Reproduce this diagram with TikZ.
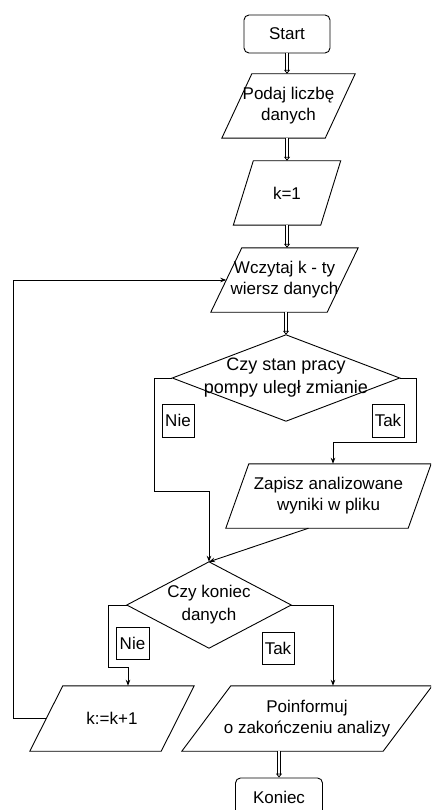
\documentclass[tikz,border=0pt]{standalone}
\usepackage{fontspec}
\setmainfont{Liberation Sans}
\usetikzlibrary{calc,arrows.meta}
\tikzset{
  box/.style={draw, line width=0.9pt},
  txt/.style={inner sep=0pt, align=center, font=\fontsize{17}{21}\selectfont},
  term/.style={txt, draw, line width=0.9pt, rounded corners=5pt},
  lbl/.style={draw, line width=0.9pt, inner sep=0pt, font=\fontsize{17}{20}\selectfont},
  arr/.style={line width=0.9pt, -{Stealth[length=6pt,width=4.5pt]}},
  hol/.style={double, double distance=2.2pt, line width=0.8pt, -{Triangle[open,length=4pt,width=6pt]}},
}
\newcommand{\pgram}[7]{%
  \node[txt, minimum width=#4pt, minimum height=#5pt] (#1) at (#2,#3) {#7};
  \draw[box] ($(#1.north west)+(#6/2,0)$) -- ($(#1.north east)+(#6/2,0)$)
     -- ($(#1.south east)+(-#6/2,0)$) -- ($(#1.south west)+(-#6/2,0)$) -- cycle;
}
\newcommand{\dmd}[7]{%
  \node[txt, minimum width=#4pt, minimum height=#5pt, font=\fontsize{#6}{23}\selectfont] (#1) at (#2,#3) {#7};
  \draw[box] (#1.north) -- (#1.east) -- (#1.south) -- (#1.west) -- cycle;
}
\begin{document}
\begin{tikzpicture}[x=1pt,y=-1pt]
\useasboundingbox (0,0) rectangle (431,810);
\clip (0,0) rectangle (431,810);
\node[term, minimum width=86pt, minimum height=38pt] (start) at (287,34) {Start};
\pgram{podaj}{288.5}{106}{103}{64}{30}{Podaj liczbę\\danych}
\pgram{k1}{287}{193}{87}{64}{20}{k=1}
\pgram{wcz}{284.5}{280}{116}{64}{31}{Wczytaj k - ty\\wiersz danych}
\dmd{d1}{286}{378}{227}{86}{18}{Czy stan pracy\\pompy uległ zmianie}
\pgram{zap}{328.5}{496}{182}{64}{23}{Zapisz analizowane\\wyniki w pliku}
\dmd{d2}{209}{605}{164}{86}{17}{Czy koniec\\danych}
\pgram{kk}{112}{718.5}{131}{65}{33}{k:=k+1}
\pgram{poin}{307}{718.5}{201}{65}{49}{Poinformuj\\o zakończeniu analizy}
\node[term, minimum width=87pt, minimum height=38pt] (kon) at (279,797) {Koniec};

\node[lbl, minimum width=32pt, minimum height=33pt] (nie1) at (178,420.5) {Nie};
\node[lbl, minimum width=32pt, minimum height=33pt] (tak1) at (388,420.5) {Tak};
\node[lbl, minimum width=33pt, minimum height=32pt] (nie2) at (132.5,643) {Nie};
\node[lbl, minimum width=32pt, minimum height=32pt] (tak2) at (278,648.5) {Tak};

\draw[hol] (start.south) -- (start.south |- podaj.north);
\draw[hol] (k1.north |- podaj.south) -- (k1.north);
\draw[hol] (k1.south) -- (k1.south |- wcz.north);
\draw[hol] (d1.north |- wcz.south) -- (d1.north);
\draw[hol] (kon.north |- poin.south) -- (kon.north);

\coordinate (n1) at (154,491);
\draw[arr] (d1.west) -| (n1) -| (d2.north);
\coordinate (n2) at (416,442);
\draw[arr] (d1.east) -| (n2) -| ([xshift=4.5pt]zap.north);
\draw[arr] ([xshift=-20pt]zap.south) -- (d2.north);
\coordinate (n3) at (108,667);
\draw[arr] (d2.west) -| (n3) -| ([xshift=16pt]kk.north);
\draw[arr] (d2.east) -| ([xshift=26pt]poin.north);
\coordinate (lp) at (13,718.5);
\draw[arr] (kk.west) -- (lp) |- (wcz.west);
\end{tikzpicture}
\end{document}
